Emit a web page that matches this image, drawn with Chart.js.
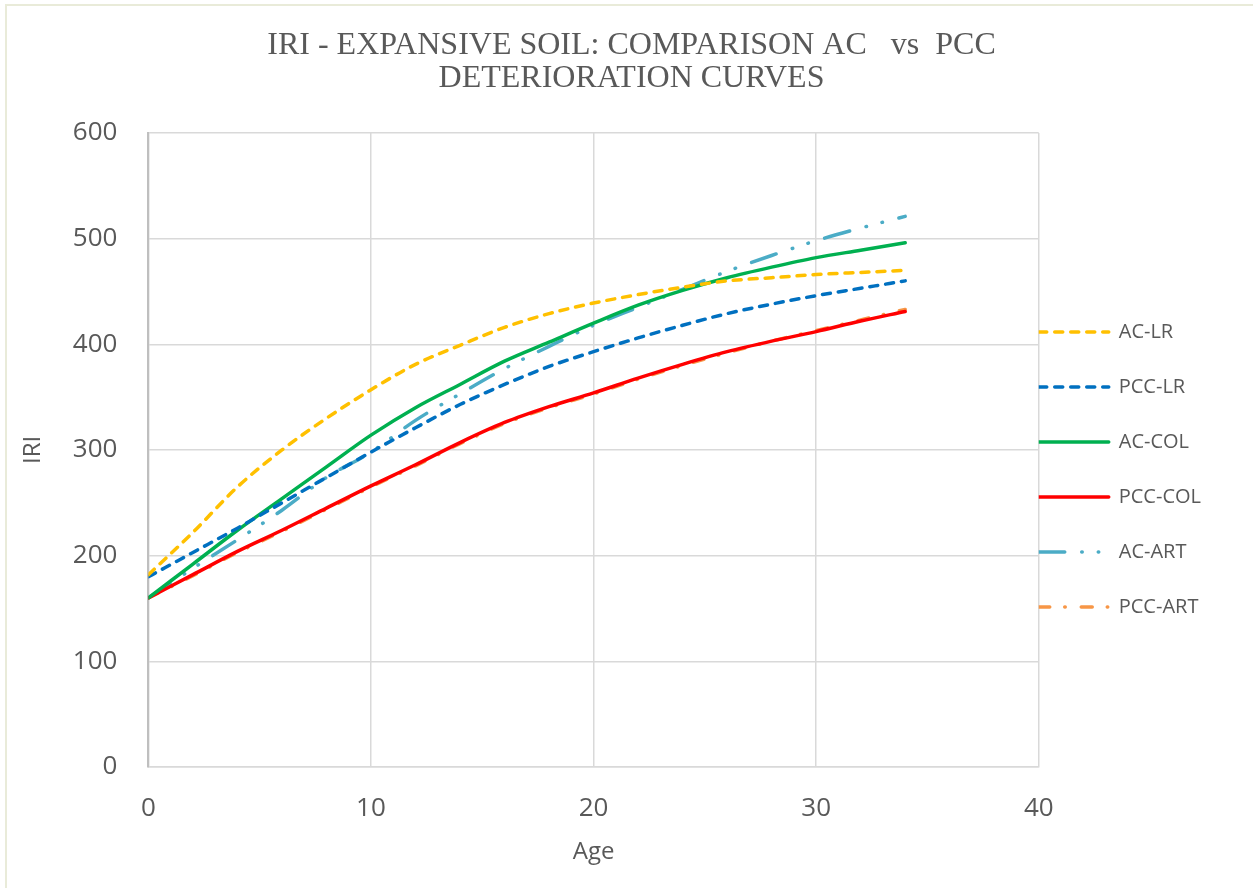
<!DOCTYPE html>
<html>
<head>
<meta charset="utf-8">
<script src="https://cdn.jsdelivr.net/npm/chart.js@4.4.1/dist/chart.umd.min.js"></script>
<style>
  html, body { margin: 0; padding: 0; background: #ffffff; }
  #wrap { width: 1253px; height: 888px; }
</style>
</head>
<body>
<div id="wrap"><canvas id="graph_cont"></canvas></div>
<script>
// ages (years) and IRI values
const ages = [0, 2, 4, 6, 8, 10, 12, 14, 16, 18, 20, 22, 24, 26, 28, 30, 32, 34];

const acLR   = [182, 222, 265, 300, 330, 357, 381, 399, 416, 429, 439, 447, 454, 460, 463, 466, 468, 470];
const pccLR  = [180, 203, 226, 250, 274, 298, 321, 343, 362, 379, 393, 406, 418, 429, 438, 446, 453, 460];
const acCOL  = [160, 192, 224, 254, 284, 314, 340, 362, 384, 402, 420, 437, 451, 463, 473, 482, 489, 496];
const pccCOL = [160, 182, 204, 224, 245, 266, 286, 307, 326, 341, 354, 368, 381, 393, 403, 412, 422, 431];
const acART  = [160, 188, 215, 243, 274, 298, 328, 353, 377, 398, 418, 435, 452, 469, 484, 498, 510, 521];
const pccART = [160, 181, 203, 223, 244, 265, 285, 306, 325, 340, 353, 367, 380, 392, 403, 413, 423, 433];

const xTicks = [0, 10, 20, 30, 40];
const yTicks = [0, 100, 200, 300, 400, 500, 600];

const textColor = '#595959';

function pts(vals) {
    return ages.map((a, i) => ({ x: a, y: vals[i] }));
}

function series(label, vals, color, dash) {
    return {
        label: label,
        data: pts(vals),
        borderColor: color,
        backgroundColor: color,
        borderWidth: 3.5,
        borderDash: dash,
        borderCapStyle: 'round',
        pointRadius: 0,
        cubicInterpolationMode: 'monotone',
        fill: false
    };
}

// thin beige frame like the original export
const frame = {
    id: 'frame',
    beforeDraw(chart) {
        const ctx = chart.ctx;
        ctx.save();
        ctx.strokeStyle = '#e9ebd9';
        ctx.lineWidth = 2;
        ctx.beginPath();
        ctx.moveTo(6, 888);
        ctx.lineTo(6, 5);
        ctx.lineTo(1253, 5);
        ctx.stroke();
        ctx.restore();
    }
};

const graph_cont = document.getElementById('graph_cont');

let myChart = new Chart(graph_cont, {
    type: 'line',
    data: {
        datasets: [
            series('AC-LR', acLR, '#FFC000', [8, 8]),
            series('PCC-LR', pccLR, '#0070C0', [8, 8]),
            series('AC-COL', acCOL, '#00B050', []),
            series('PCC-COL', pccCOL, '#FF0000', []),
            series('AC-ART', acART, '#4BACC6', [26, 17, 0.5, 16, 0.5, 17]),
            series('PCC-ART', pccART, '#F79646', [11, 15, 0.5, 16])
        ]
    },
    options: {
        responsive: true,
        maintainAspectRatio: false,
        animation: false,
        layout: {
            padding: { top: 0, left: 52, right: 42, bottom: 10 }
        },
        scales: {
            x: {
                type: 'linear',
                min: 0,
                max: 40,
                afterBuildTicks: (scale) => { scale.ticks = xTicks.map(v => ({ value: v })); },
                ticks: {
                    color: textColor,
                    font: { family: 'Open Sans', size: 26 },
                    padding: 26,
                    maxRotation: 0
                },
                grid: { color: '#d9d9d9', lineWidth: 1.5, drawTicks: false },
                border: { color: '#d9d9d9', width: 1.5 },
                title: {
                    display: true,
                    text: 'Age',
                    color: textColor,
                    font: { family: 'Open Sans', size: 24 },
                    padding: { top: -12, bottom: 11 }
                }
            },
            y: {
                min: 0,
                max: 600,
                afterBuildTicks: (scale) => { scale.ticks = yTicks.map(v => ({ value: v })); },
                ticks: {
                    color: textColor,
                    font: { family: 'Open Sans', size: 26 },
                    padding: 31
                },
                grid: { color: '#d9d9d9', lineWidth: 1.5, drawTicks: false },
                border: { color: '#bfbfbf', width: 2 },
                title: {
                    display: true,
                    text: 'IRI',
                    color: textColor,
                    font: { family: 'Open Sans', size: 24 },
                    padding: { top: -33, bottom: -6 }
                }
            }
        },
        plugins: {
            title: {
                display: true,
                text: ['IRI - EXPANSIVE SOIL: COMPARISON AC   vs  PCC', 'DETERIORATION CURVES'],
                color: textColor,
                font: { family: 'Liberation Serif', size: 32, weight: 'normal', lineHeight: 1.03 },
                padding: { top: 29, bottom: 38 }
            },
            legend: {
                position: 'right',
                title: { display: true, text: '', padding: 38, font: { size: 20, lineHeight: 1 } },
                labels: {
                    usePointStyle: true,
                    pointStyle: 'line',
                    pointStyleWidth: 70,
                    padding: 0,
                    color: textColor,
                    font: { family: 'Open Sans', size: 20, lineHeight: 2.75 },
                    generateLabels: (chart) => chart.data.datasets.map((ds, i) => ({
                        text: [ds.label],
                        datasetIndex: i,
                        hidden: false,
                        fillStyle: ds.borderColor,
                        strokeStyle: ds.borderColor,
                        lineWidth: ds.borderWidth,
                        lineDash: ds.borderDash,
                        lineCap: ds.borderCapStyle,
                        pointStyle: 'line',
                        fontColor: textColor
                    }))
                }
            },
            tooltip: { enabled: false }
        }
    },
    plugins: [frame]
});
</script>
</body>
</html>
